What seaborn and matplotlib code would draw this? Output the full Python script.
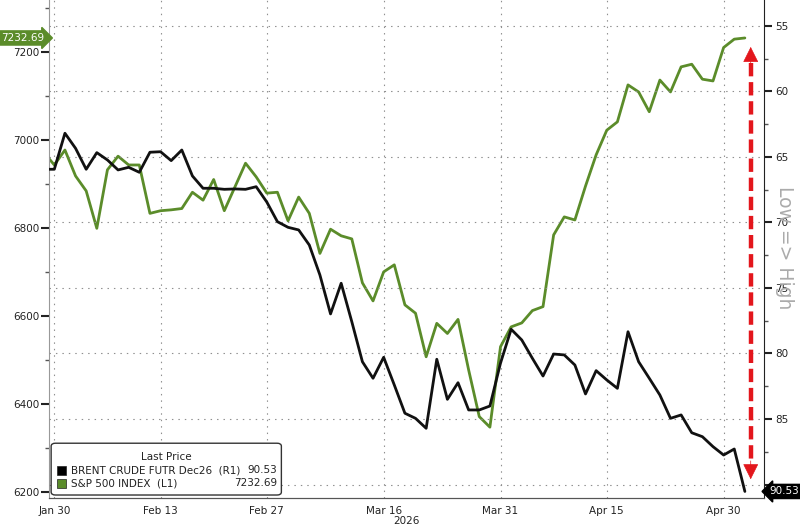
import numpy as np
import pandas as pd
import matplotlib
matplotlib.use('Agg')
import matplotlib.pyplot as plt
import seaborn as sns
from matplotlib import transforms
from matplotlib.patches import FancyBboxPatch, Rectangle

# trading days shown on the chart (Good Friday skipped)
dates = pd.bdate_range('2026-01-29', '2026-05-04')
dates = dates[dates != pd.Timestamp('2026-04-03')]

# BRENT CRUDE FUTR Dec26, right axis (inverted)
brent = [65.94, 65.94, 63.19, 64.34, 65.94, 64.67, 65.23, 65.99, 65.79, 66.17,
         64.64, 64.60, 65.28, 64.47, 66.45, 67.39, 67.39, 67.47, 67.44, 67.47,
         67.27, 68.44, 69.94, 70.37, 70.57, 71.72, 74.01, 76.98, 74.64, 77.57,
         80.63, 81.89, 80.29, 82.40, 84.56, 84.95, 85.71, 80.44, 83.50, 82.23,
         84.31, 84.31, 84.01, 80.73, 78.15, 78.97, 80.37, 81.72, 80.04, 80.11,
         80.88, 83.09, 81.31, 82.02, 82.66, 78.34, 80.63, 81.89, 83.17, 84.95,
         84.69, 86.05, 86.35, 87.11, 87.75, 87.29, 90.53]

# S&P 500 INDEX, left axis
spx = [6973, 6944, 6978, 6919, 6885, 6800, 6933, 6964, 6944, 6944,
       6834, 6840, 6842, 6845, 6882, 6864, 6911, 6840, 6894, 6948,
       6917, 6880, 6882, 6817, 6871, 6834, 6743, 6798, 6783, 6776,
       6676, 6635, 6701, 6717, 6626, 6607, 6508, 6584, 6561, 6593,
       6478, 6372, 6348, 6531, 6576, 6585, 6613, 6622, 6785, 6826,
       6819, 6896, 6967, 7023, 7042, 7126, 7110, 7065, 7137, 7110,
       7167, 7173, 7139, 7135, 7211, 7230, 7232.69]

tick_days = ['2026-01-30', '2026-02-13', '2026-02-27', '2026-03-16',
             '2026-03-31', '2026-04-15', '2026-04-30']
minor_days = ['2026-02-06', '2026-02-20', '2026-03-09', '2026-03-23',
              '2026-04-08', '2026-04-22']
left_ticks = [6200, 6400, 6600, 6800, 7000, 7200]
right_ticks = [55, 60, 65, 70, 75, 80, 85, 90]

green = '#5b8c2a'
red = '#e3161c'

df = pd.DataFrame({'day': np.arange(len(dates)), 'date': dates,
                   'brent': brent, 'spx': spx})

sns.set_style('white')
plt.rcParams['font.family'] = ['DejaVu Sans']

fig = plt.figure(figsize=(8, 5.25), dpi=100)
ax = fig.add_axes([49 / 800, 27 / 525, 715 / 800, 498 / 525])
ax2 = ax.twinx()

sns.lineplot(data=df, x='day', y='spx', ax=ax, color=green, lw=2.0)
sns.lineplot(data=df, x='day', y='brent', ax=ax2, color='#111111', lw=2.0)

ax.set_xlim(0.5, 67.8)
ax.set_ylim(6187, 7319)
ax2.set_ylim(91.03, 53.02)

day_of = {d: i for i, d in enumerate(df['date'])}
ax.set_xticks([day_of[pd.Timestamp(d)] for d in tick_days])
ax.set_xticklabels([pd.Timestamp(d).strftime('%b %d') for d in tick_days])
ax.set_xticks([day_of[pd.Timestamp(d)] for d in minor_days], minor=True)
ax.set_yticks(left_ticks)
ax.set_yticks([t + 100 for t in left_ticks], minor=True)
ax2.set_yticks(right_ticks)
# the 90 label sits under the last-price tag
ax2.set_yticklabels([str(t) if t != 90 else '' for t in right_ticks])
ax2.set_yticks([t + 2.5 for t in right_ticks[:-1]], minor=True)

ax.set_ylabel('')
ax2.set_ylabel('')
ax.set_xlabel('2026', fontsize=7.5, labelpad=0, color='#222222')

grid_kw = dict(color='#8f8f8f', lw=0.8, ls=(0, (1.3, 4.5)))
ax.grid(axis='x', which='major', **grid_kw)
ax.grid(axis='y', visible=False)
ax2.grid(axis='y', which='major', **grid_kw)
ax2.grid(axis='x', visible=False)

ax.tick_params(axis='x', which='major', length=4, width=1, color='#555555',
               pad=1.5, labelsize=7.5, labelcolor='#222222')
ax.tick_params(axis='x', which='minor', length=3, width=1, color='#555555')
ax.tick_params(axis='y', which='major', length=6, width=1.5, color='#222222',
               pad=1, labelsize=7.5, labelcolor='#222222')
ax.tick_params(axis='y', which='minor', length=3, width=1, color='#555555')
ax2.tick_params(axis='y', which='major', length=6, width=1.5, color='#222222',
                pad=2, labelsize=7.5, labelcolor='#222222')
ax2.tick_params(axis='y', which='minor', length=3, width=1, color='#555555')

for a in (ax, ax2):
    a.spines['top'].set_visible(False)
ax2.spines['left'].set_visible(False)
ax.spines['left'].set_color('#999999')
ax.spines['bottom'].set_color('#555555')
ax2.spines['bottom'].set_color('#555555')
ax2.spines['right'].set_color('#222222')
ax.spines['right'].set_visible(False)

# last price tags
bl = transforms.blended_transform_factory(ax.transAxes, ax.transData)
ax.text(-0.006, spx[-1], f'{spx[-1]:.2f}', transform=bl, ha='right', va='center',
        color='white', fontsize=7.5, clip_on=False,
        bbox=dict(boxstyle='rarrow,pad=0.2', fc=green, ec=green))
br = transforms.blended_transform_factory(ax2.transAxes, ax2.transData)
ax2.text(1.008, brent[-1], f'{brent[-1]:.2f}', transform=br, ha='left', va='center',
         color='white', fontsize=7.5, clip_on=False, zorder=6,
         bbox=dict(boxstyle='larrow,pad=0.2', fc='black', ec='black'))

# red double arrow: dashed shaft + two solid heads
arrow_x = 66.55
ax2.plot([arrow_x, arrow_x], [57.8, 88.4], color=red, lw=3.2,
         ls=(0, (3.0, 1.3)), solid_capstyle='butt', zorder=4)
head = dict(arrowstyle='-|>,head_length=1.0,head_width=0.5', color=red, lw=0.5,
            shrinkA=0, shrinkB=0)
ax2.annotate('', xy=(arrow_x, 56.6), xytext=(arrow_x, 58.0), arrowprops=head)
ax2.annotate('', xy=(arrow_x, 89.6), xytext=(arrow_x, 88.2), arrowprops=head)

ax2.text(1.029, 0.502, 'Low => High', transform=ax2.transAxes, rotation=270,
         ha='center', va='center', fontsize=13.5, color='#ababab')

# legend box
t = ax2.transAxes
ax2.add_patch(FancyBboxPatch((0.003, 0.006), 0.322, 0.104,
                             boxstyle='round,pad=0,rounding_size=0.006',
                             transform=t, fc='white', ec='#333333', lw=1, zorder=10))
ax2.text(0.164, 0.082, 'Last Price', transform=t, ha='center', va='center',
         fontsize=7.5, color='#222222', zorder=11)
rows = [('BRENT CRUDE FUTR Dec26  (R1)', f'{brent[-1]:.2f}', 'black', 0.056),
        ('S&P 500 INDEX  (L1)', f'{spx[-1]:.2f}', green, 0.030)]
for name, val, col, yy in rows:
    ax2.add_patch(Rectangle((0.011, yy - 0.009), 0.013, 0.018, transform=t,
                            fc=col, ec='#222222', lw=0.5, zorder=11))
    ax2.text(0.031, yy, name, transform=t, ha='left', va='center',
             fontsize=7.5, color='#222222', zorder=11)
    ax2.text(0.319, yy, val, transform=t, ha='right', va='center',
             fontsize=7.5, color='#222222', zorder=11)

fig.savefig('out.png', dpi=100)
